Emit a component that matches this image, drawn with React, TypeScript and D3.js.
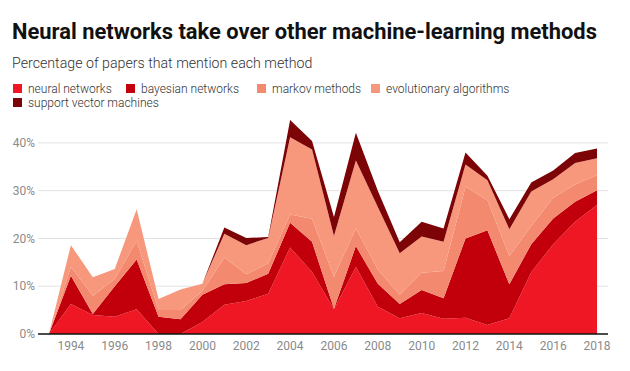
import { area, scaleLinear, stack } from 'd3'

const years = [
  1993, 1994, 1995, 1996, 1997, 1998, 1999, 2000, 2001, 2002, 2003, 2004, 2005,
  2006, 2007, 2008, 2009, 2010, 2011, 2012, 2013, 2014, 2015, 2016, 2017, 2018,
]

const neuralNetworks = [
  0, 6.3, 4.0, 3.6, 5.2, 0, 0, 2.5, 6.1, 6.9, 8.4, 18.1, 13.0, 5.2, 14.0, 5.7,
  3.3, 4.4, 3.2, 3.4, 1.9, 3.3, 12.9, 18.8, 23.5, 27.0,
]
const bayesianNetworks = [
  0, 5.9, 0.2, 6.4, 10.4, 3.6, 3.1, 5.7, 4.3, 3.8, 4.2, 5.2, 6.3, 0.1, 4.4, 4.8,
  3.0, 4.8, 4.3, 16.6, 19.8, 7.1, 5.9, 5.4, 4.2, 3.1,
]
const markovMethods = [
  0, 1.8, 3.8, 1.5, 3.9, 1.4, 1.9, 0.8, 5.6, 1.8, 2.2, 1.7, 4.8, 6.7, 3.7, 3.0,
  1.9, 3.6, 5.7, 10.8, 6.3, 5.9, 3.8, 4.3, 3.6, 3.2,
]
const evolutionaryAlgorithms = [
  0, 4.6, 3.9, 2.1, 6.6, 2.3, 4.3, 1.5, 5.0, 6.1, 5.3, 16.2, 14.5, 8.5, 14.2,
  13.1, 8.7, 7.6, 6.1, 4.7, 4.2, 5.6, 7.2, 3.9, 4.5, 3.5,
]
const supportVectorMachines = [
  0, 0, 0, 0, 0, 0, 0, 0, 1.3, 1.5, 0.2, 3.6, 1.8, 4.0, 5.8, 3.4, 2.3, 3.1, 2.8,
  2.5, 0.9, 2.1, 1.9, 1.8, 2.1, 2.0,
]

const seriesNames = [
  'neural networks',
  'bayesian networks',
  'markov methods',
  'evolutionary algorithms',
  'support vector machines',
]
const seriesColors = ['#ef1723', '#c2000b', '#f3896f', '#f7987c', '#7c0306']

const yTicks = [0, 10, 20, 30, 40]
const xTicks = [1994, 1996, 1998, 2000, 2002, 2004, 2006, 2008, 2010, 2012, 2014, 2016, 2018]

const width = 630
const height = 371
const plot = { left: 38, right: 608, top: 119, bottom: 334 }

// legend slots, same order as seriesNames
const legendSlots = [
  { x: 13, row: 0 },
  { x: 126, row: 0 },
  { x: 257, row: 0 },
  { x: 371, row: 0 },
  { x: 13, row: 1 },
]

type Row = { year: number; [key: string]: number }

function App() {
  const allSeries = [
    neuralNetworks,
    bayesianNetworks,
    markovMethods,
    evolutionaryAlgorithms,
    supportVectorMachines,
  ]

  const rows: Row[] = years.map((year, i) => {
    const row: Row = { year }
    seriesNames.forEach((name, s) => {
      row[name] = allSeries[s][i]
    })
    return row
  })

  const stacked = stack<Row>().keys(seriesNames)(rows)

  const xScale = scaleLinear().domain([1992.5, 2018.5]).range([plot.left, plot.right])
  const yScale = scaleLinear().domain([0, 45]).range([plot.bottom, plot.top])

  const areaPath = area<any>()
    .x((d) => xScale(d.data.year))
    .y0((d) => yScale(d[0]))
    .y1((d) => yScale(d[1]))

  return (
    <svg
      width={width}
      height={height}
      viewBox={`0 0 ${width} ${height}`}
      style={{ position: 'absolute', left: 0, top: 0, background: '#fff' }}
      fontFamily="Roboto, sans-serif"
    >
      <text x={12} y={39} fontSize={21.9} fontWeight={700} fill="#111">
        Neural networks take over other machine-learning methods
      </text>
      <text x={12} y={68} fontSize={14.2} fontWeight={300} fill="#333">
        Percentage of papers that mention each method
      </text>

      {legendSlots.map((slot, i) => {
        const y = 84 + slot.row * 14
        return (
          <g key={seriesNames[i]}>
            <rect x={slot.x} y={y} width={9} height={9} fill={seriesColors[i]} />
            <text x={slot.x + 15} y={y + 8.5} fontSize={12} fontWeight={300} fill="#333">
              {seriesNames[i]}
            </text>
          </g>
        )
      })}

      {yTicks.map((tick) => (
        <g key={tick}>
          {tick > 0 && (
            <line
              x1={plot.left}
              x2={plot.right}
              y1={yScale(tick)}
              y2={yScale(tick)}
              stroke="#e2e2e2"
              strokeWidth={1}
            />
          )}
          <text
            x={35}
            y={yScale(tick)}
            dy="0.35em"
            textAnchor="end"
            fontSize={12}
            fill="#8a8a8a"
          >
            {tick}%
          </text>
        </g>
      ))}

      {stacked.map((layer, i) => (
        <path key={layer.key} d={areaPath(layer) ?? ''} fill={seriesColors[i]} />
      ))}

      <line
        x1={plot.left}
        x2={plot.right}
        y1={plot.bottom}
        y2={plot.bottom}
        stroke="#111"
        strokeWidth={1.5}
      />

      {xTicks.map((tick) => (
        <text
          key={tick}
          x={xScale(tick)}
          y={350}
          textAnchor="middle"
          fontSize={12}
          fill="#8a8a8a"
        >
          {tick}
        </text>
      ))}
    </svg>
  )
}

export default App
